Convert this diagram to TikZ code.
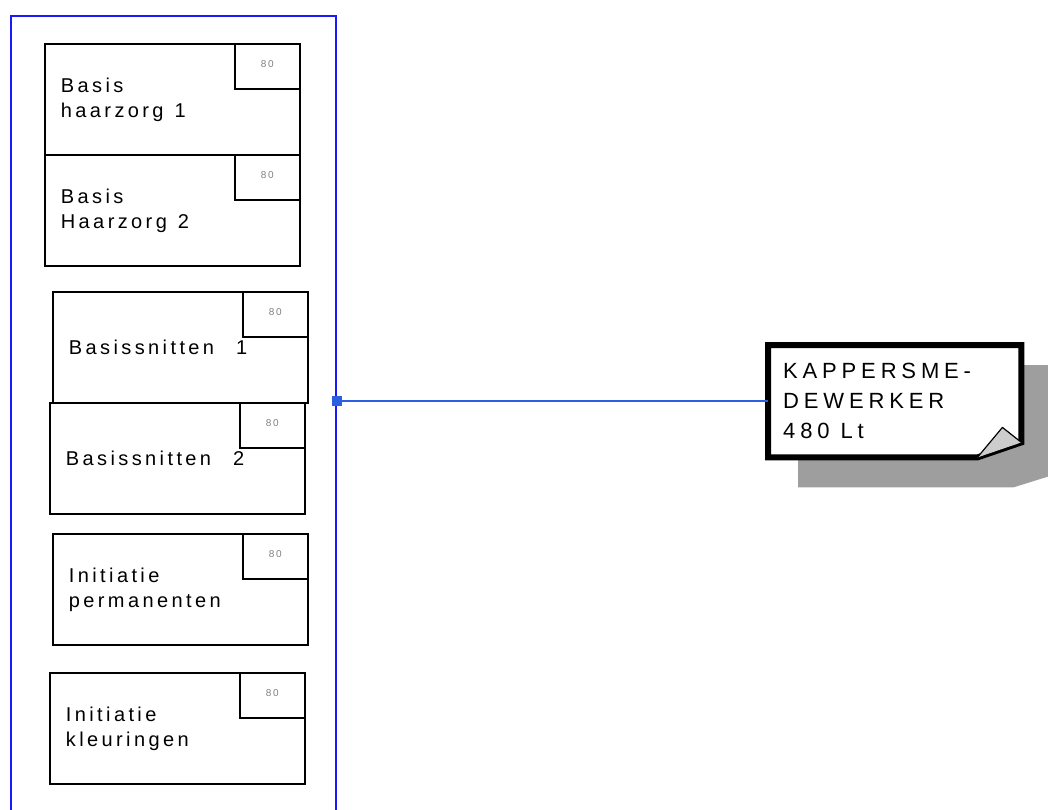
\documentclass[tikz,border=0pt]{standalone}
\usepackage{fontspec}
\setmainfont{Liberation Sans}
\newfontfamily\lesfont[LetterSpace=17]{Liberation Sans}
\newfontfamily\notefont[LetterSpace=22]{Liberation Sans}
\usepackage{tikz}
\usetikzlibrary{calc,backgrounds}
\definecolor{kaderblauw}{RGB}{25,25,250}
\definecolor{lijnblauw}{RGB}{45,95,225}
\definecolor{schaduw}{RGB}{158,158,158}
\definecolor{vouw}{RGB}{205,205,205}
\newcommand{\tus}{\hspace*{11pt}}

\begin{document}
\begin{tikzpicture}[x=1pt,y=1pt,yscale=-1,
  lesbox/.style={draw, line width=1.8, minimum width=255, minimum height=111, text width=223, inner xsep=16, anchor=north west, align=left, font=\lesfont\fontsize{20}{25}\selectfont},
  urenbox/.style={draw, line width=1.8, minimum width=65, minimum height=45, inner sep=0, anchor=north east, text=black!50, font=\lesfont\fontsize{10}{10}\selectfont},
  verbinding/.style={draw=lijnblauw, line width=1.5}]
\useasboundingbox (0,0) rectangle (1048,809);
%Container
\node [draw=kaderblauw, line width=2, minimum width=325, minimum height=820, inner sep=0, anchor=north west] (cursus) at (10,15) {};

% Text Node
\node [lesbox] (b1) at (44,43) {Basis\\haarzorg\tus1};
\node [urenbox] (u1) at (b1.north east) {\raisebox{4pt}{80}};
% Text Node
\node [lesbox] (b2) at (44,154) {Basis\\Haarzorg\tus2};
\node [urenbox] (u2) at (b2.north east) {\raisebox{4pt}{80}};
% Text Node
\node [lesbox] (b3) at (52,291) {Basissnitten\tus\tus1};
\node [urenbox] (u3) at (b3.north east) {\raisebox{4pt}{80}};
% Text Node
\node [lesbox] (b4) at (49,402) {Basissnitten\tus\tus2};
\node [urenbox] (u4) at (b4.north east) {\raisebox{4pt}{80}};
% Text Node
\node [lesbox] (b5) at (52,533) {Initiatie\\permanenten};
\node [urenbox] (u5) at (b5.north east) {\raisebox{4pt}{80}};
% Text Node
\node [lesbox] (b6) at (49,672) {Initiatie\\kleuringen};
\node [urenbox] (u6) at (b6.north east) {\raisebox{4pt}{80}};

% Note
\node [minimum width=253, minimum height=112, text width=223, inner xsep=15, anchor=north west, align=left, font=\notefont\fontsize{22}{30}\selectfont] (functie) at (768,345) {KAPPERSME-\\DEWERKER\\480\tus Lt};
\begin{scope}[on background layer]
\fill [schaduw] ($(functie.north west)+(30,20)$) -- ($(functie.north east)+(40,20)$) -- ($(functie.south east)+(40,15)$) -- ($(functie.south east)+(-8,30)$) -- ($(functie.south west)+(30,30)$) -- cycle;
\fill [white] (functie.north west) -- (functie.north east) -- ($(functie.south east)+(0,-15)$) -- ($(functie.south east)+(-44,0)$) -- (functie.south west) -- cycle;
\end{scope}
\draw [line width=6, line join=miter] (functie.north west) -- (functie.north east) -- ($(functie.south east)+(0,-15)$) -- ($(functie.south east)+(-44,0)$) -- (functie.south west) -- cycle;
\draw [fill=vouw, line width=1.2, line join=round] ($(functie.south east)+(-44,0)$) -- ($(functie.south east)+(-19,-30)$) -- ($(functie.south east)+(0,-15)$);

%Straight Lines
\node [fill=lijnblauw, minimum size=10, inner sep=0] (anker) at (functie.west -| cursus.east) {};
\draw [verbinding] (anker) -- (functie);
\end{tikzpicture}
\end{document}
